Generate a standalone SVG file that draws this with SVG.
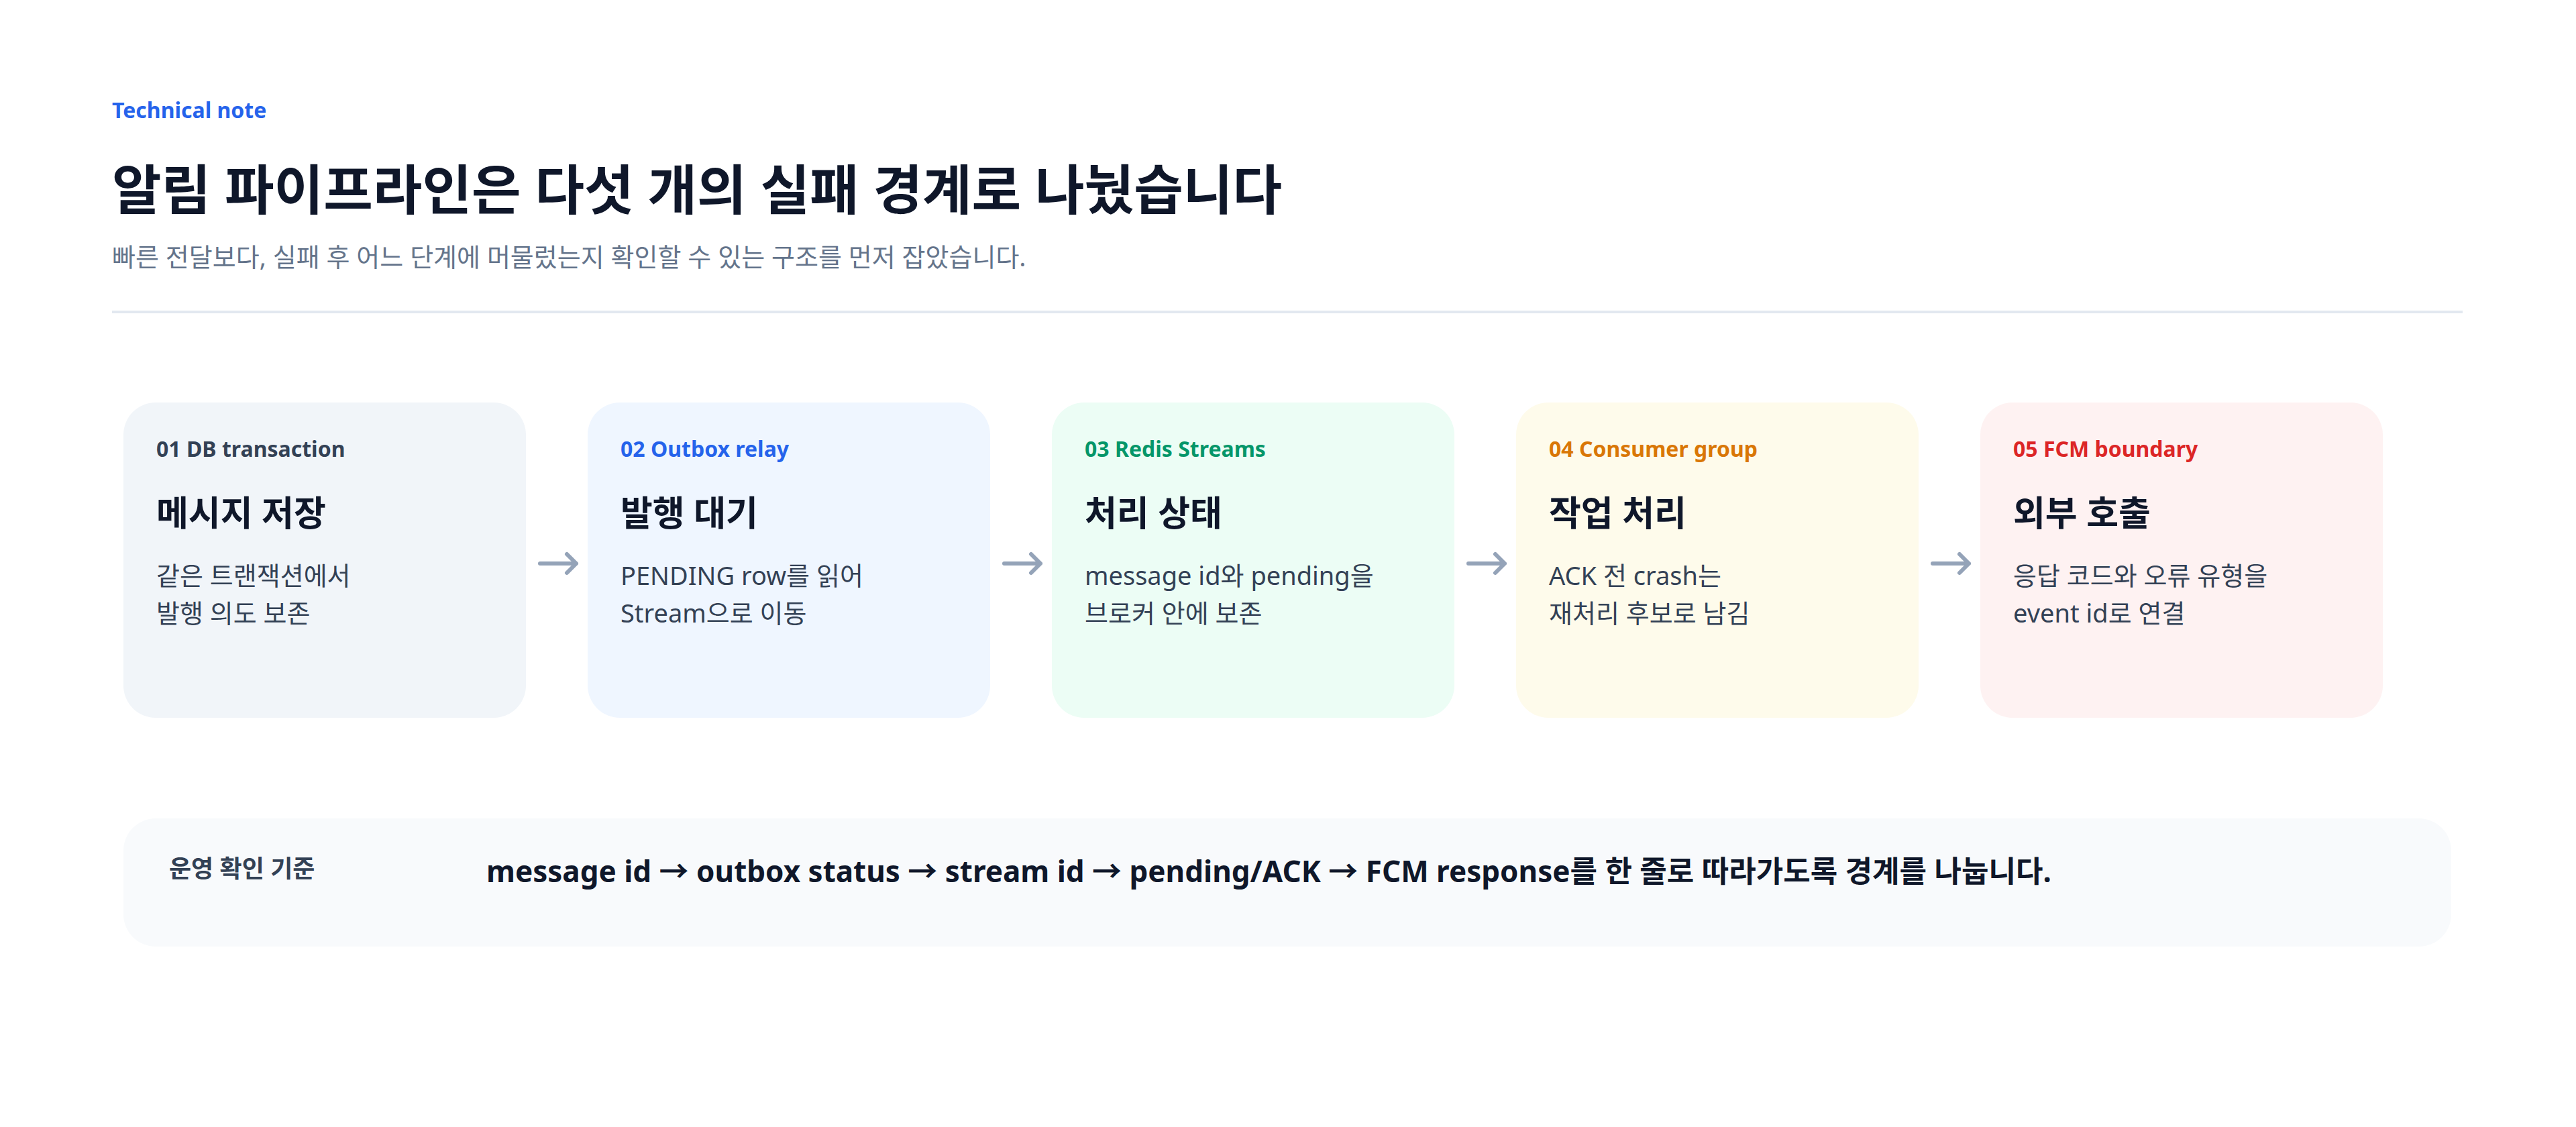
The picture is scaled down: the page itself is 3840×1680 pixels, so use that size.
<svg xmlns="http://www.w3.org/2000/svg" width="3840" height="1680" viewBox="0 0 3840 1680">
<defs>
<style>
text{font-family:"Noto Sans","Noto Sans CJK KR",sans-serif}
.lab{font-size:32px;font-weight:700}
.h{font-size:52px;font-weight:700;fill:#0f172a}
.b{font-size:38px;fill:#334155}
.arr{stroke:#94a3b8;stroke-width:6;fill:none;stroke-linecap:round;stroke-linejoin:round}
</style>
</defs>
<rect width="3840" height="1680" fill="#ffffff"/>
<g id="header">
<text x="167" y="176" font-size="32" font-weight="700" fill="#2563eb">Technical note</text>
<text x="167" y="312" font-size="80" font-weight="700" fill="#0f172a">알림 파이프라인은 다섯 개의 실패 경계로 나눴습니다</text>
<text x="167" y="397" font-size="38" fill="#64748b">빠른 전달보다, 실패 후 어느 단계에 머물렀는지 확인할 수 있는 구조를 먼저 잡았습니다.</text>
<line x1="167" y1="465" x2="3671" y2="465" stroke="#e2e8f0" stroke-width="4"/>
</g>
<g id="n1">
<rect x="184" y="600" width="600" height="470" rx="48" fill="#f1f5f9"/>
<text class="lab" x="233" y="681" fill="#334155">01 DB transaction</text>
<text class="h" x="233" y="784">메시지 저장</text>
<text class="b" x="233" y="872">같은 트랜잭션에서</text>
<text class="b" x="233" y="928">발행 의도 보존</text>
</g>
<g id="n2">
<rect x="876" y="600" width="600" height="470" rx="48" fill="#eff6ff"/>
<text class="lab" x="925" y="681" fill="#2563eb">02 Outbox relay</text>
<text class="h" x="925" y="784">발행 대기</text>
<text class="b" x="925" y="872">PENDING row를 읽어</text>
<text class="b" x="925" y="928">Stream으로 이동</text>
</g>
<g id="n3">
<rect x="1568" y="600" width="600" height="470" rx="48" fill="#ecfdf5"/>
<text class="lab" x="1617" y="681" fill="#059669">03 Redis Streams</text>
<text class="h" x="1617" y="784">처리 상태</text>
<text class="b" x="1617" y="872">message id와 pending을</text>
<text class="b" x="1617" y="928">브로커 안에 보존</text>
</g>
<g id="n4">
<rect x="2260" y="600" width="600" height="470" rx="48" fill="#fefbeb"/>
<text class="lab" x="2309" y="681" fill="#d97706">04 Consumer group</text>
<text class="h" x="2309" y="784">작업 처리</text>
<text class="b" x="2309" y="872">ACK 전 crash는</text>
<text class="b" x="2309" y="928">재처리 후보로 남김</text>
</g>
<g id="n5">
<rect x="2952" y="600" width="600" height="470" rx="48" fill="#fef2f2"/>
<text class="lab" x="3001" y="681" fill="#dc2626">05 FCM boundary</text>
<text class="h" x="3001" y="784">외부 호출</text>
<text class="b" x="3001" y="872">응답 코드와 오류 유형을</text>
<text class="b" x="3001" y="928">event id로 연결</text>
</g>
<g id="connectors">
<path class="arr" d="M805 840H859M845 826L859 840L845 854"/>
<path class="arr" d="M1497 840H1551M1537 826L1551 840L1537 854"/>
<path class="arr" d="M2189 840H2243M2229 826L2243 840L2229 854"/>
<path class="arr" d="M2881 840H2935M2921 826L2935 840L2921 854"/>
</g>
<g id="criteria">
<rect x="184" y="1220" width="3470" height="191" rx="48" fill="#f8fafc"/>
<text x="252" y="1308" font-size="36" font-weight="700" fill="#334155">운영 확인 기준</text>
<text x="725" y="1315" font-size="44" font-weight="700" fill="#0f172a">message id → outbox status → stream id → pending/ACK → FCM response를 한 줄로 따라가도록 경계를 나눕니다.</text>
</g>
</svg>
